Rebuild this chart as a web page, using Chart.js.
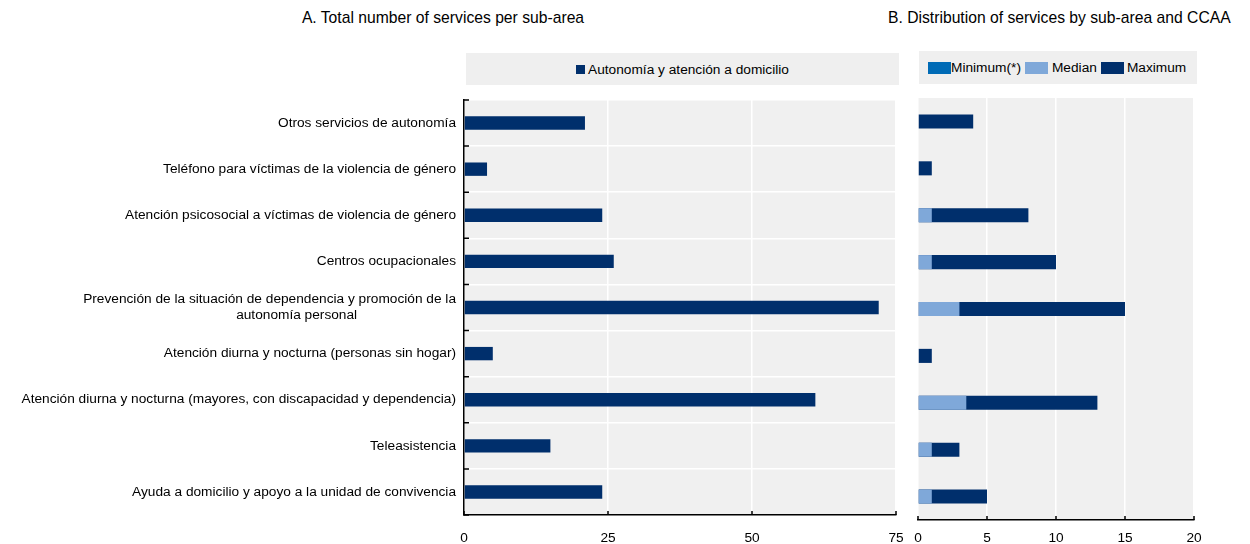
<!DOCTYPE html>
<html>
<head>
<meta charset="utf-8">
<script src="https://cdn.jsdelivr.net/npm/chart.js@4.4.1/dist/chart.umd.min.js"></script>
<style>
  body { margin: 0; width: 1250px; height: 544px; overflow: hidden; background: #fff;
         font-family: "Liberation Sans", Arial, sans-serif; color: #000; }
  .title { position: absolute; top: 9px; font-size: 15.7px; white-space: nowrap; text-align: center; }
  .legend { position: absolute; background: #efefef; display: flex; align-items: center;
            font-size: 13.7px; white-space: nowrap; }
  .sw { display: inline-block; }
  .item { display: flex; align-items: center; }
  #boxA { position: absolute; left: 0; top: 95px; }
  #boxB { position: absolute; left: 905px; top: 93px; }
</style>
</head>
<body>
<div class="title" style="left:0;width:886px">A. Total number of services per sub-area</div>
<div class="title" style="left:888px;text-align:left">B. Distribution of services by sub-area and CCAA</div>

<div class="legend" style="left:466px;top:53px;width:433px;height:32px;justify-content:center">
  <span class="item"><span class="sw" style="width:9px;height:9px;background:#002f6c;margin-right:3px"></span>Autonomía y atención a domicilio</span>
</div>
<div class="legend" style="left:919px;top:51px;width:278px;height:33px;padding-left:9px;box-sizing:border-box">
  <span class="item"><span class="sw" style="width:23px;height:12px;background:#006bb6"></span>Minimum(*)</span>
  <span class="item" style="margin-left:4px"><span class="sw" style="width:23px;height:12px;background:#7fa8d9;margin-right:4px"></span>Median</span>
  <span class="item" style="margin-left:4px"><span class="sw" style="width:23px;height:12px;background:#002f6c;margin-right:3px"></span>Maximum</span>
</div>

<div id="boxA"><canvas id="chartA" width="905" height="449"></canvas></div>
<div id="boxB"><canvas id="chartB" width="345" height="451"></canvas></div>

<script>
const subAreas = [
  'Otros servicios de autonomía',
  'Teléfono para víctimas de la violencia de género',
  'Atención psicosocial a víctimas de violencia de género',
  'Centros ocupacionales',
  ['Prevención de la situación de dependencia y promoción de la', 'autonomía personal' + ' '.repeat(26)],
  'Atención diurna y nocturna (personas sin hogar)',
  'Atención diurna y nocturna (mayores, con discapacidad y dependencia)',
  'Teleasistencia',
  'Ayuda a domicilio y apoyo a la unidad de convivencia'
];
const totalServices = [21, 4, 24, 26, 72, 5, 61, 15, 24];
const minServices = [0, 0, 0, 0, 0, 0, 0, 0, 0];
const medianServices = [0, 0, 1, 1, 3, 0, 3.5, 1, 1];
const maxServices = [4, 1, 8, 10, 15, 1, 13, 3, 5];
const ticksA = [0, 25, 50, 75];
const ticksB = [0, 5, 10, 15, 20];

const NAVY = '#002f6c', LIGHT = '#7fa8d9', MID = '#006bb6';

// grey plot background plus short inward tick marks
const frame = {
  id: 'frame',
  beforeDraw(chart) {
    const { ctx, chartArea: a } = chart;
    ctx.save();
    ctx.fillStyle = '#f0f0f0';
    ctx.fillRect(a.left, a.top, a.right - a.left, a.bottom - a.top);
    ctx.restore();
  },
  afterDraw(chart, args, opts) {
    const { ctx, chartArea: a, scales } = chart;
    ctx.save();
    ctx.strokeStyle = '#000';
    ctx.lineWidth = 1.5;
    ctx.beginPath();
    scales.x.ticks.forEach(t => {
      const px = scales.x.getPixelForValue(t.value);
      ctx.moveTo(px, a.bottom);
      ctx.lineTo(px, a.bottom - 4);
    });
    if (opts.yTicks) {
      for (let i = 0; i <= subAreas.length; i++) {
        const py = scales.y.getPixelForValue(i - 0.5);
        ctx.moveTo(a.left, py);
        ctx.lineTo(a.left + 5, py);
      }
    }
    ctx.stroke();
    ctx.restore();
  }
};

// fixed axis sizes, no extra room for overhanging labels
const fixX = h => s => { s.height = h; s.paddingLeft = 0; s.paddingRight = 0; };
const fixY = w => s => { s.width = w; s.paddingTop = 0; s.paddingBottom = 0; };

Chart.defaults.font.family = '"Liberation Sans", Arial, sans-serif';
Chart.defaults.font.size = 13.7;
Chart.defaults.color = '#000';

new Chart(document.getElementById('chartA'), {
  type: 'bar',
  plugins: [frame],
  data: {
    labels: subAreas,
    datasets: [{
      label: 'Autonomía y atención a domicilio',
      data: totalServices,
      backgroundColor: NAVY,
      categoryPercentage: 0.29,
      barPercentage: 1
    }]
  },
  options: {
    indexAxis: 'y',
    responsive: false,
    animation: false,
    layout: { padding: { left: 0, right: 9, top: 5, bottom: 0 } },
    plugins: { legend: { display: false }, tooltip: { enabled: false }, frame: { yTicks: true } },
    scales: {
      x: {
        min: 0, max: 75,
        afterBuildTicks: s => { s.ticks = ticksA.map(v => ({ value: v })); },
        afterFit: fixX(29),
        grid: { color: '#fff', lineWidth: 1.5, drawTicks: false },
        border: { display: true, color: '#000', width: 1.5 },
        ticks: { padding: 15 }
      },
      y: {
        afterFit: fixY(464),
        grid: { color: '#fff', lineWidth: 1.5, drawTicks: false },
        border: { display: true, color: '#000', width: 1.5 },
        ticks: { padding: 8, font: { lineHeight: 1.15 } }
      }
    }
  }
});

new Chart(document.getElementById('chartB'), {
  type: 'bar',
  plugins: [frame],
  data: {
    labels: subAreas,
    datasets: [
      { label: 'Minimum(*)', data: minServices, backgroundColor: MID },
      { label: 'Median', data: medianServices, backgroundColor: LIGHT },
      { label: 'Maximum', data: maxServices, backgroundColor: NAVY }
    ]
  },
  options: {
    indexAxis: 'y',
    responsive: false,
    animation: false,
    grouped: false,
    categoryPercentage: 0.3,
    barPercentage: 1,
    layout: { padding: { left: 13, right: 56, top: 5, bottom: 0 } },
    plugins: { legend: { display: false }, tooltip: { enabled: false }, frame: { yTicks: false } },
    scales: {
      x: {
        min: 0, max: 20,
        afterBuildTicks: s => { s.ticks = ticksB.map(v => ({ value: v })); },
        afterFit: fixX(24),
        grid: { color: '#fff', lineWidth: 1.5, drawTicks: false },
        border: { display: true, color: '#000', width: 1.5 },
        ticks: { padding: 10 }
      },
      y: { display: false }
    }
  }
});
</script>
</body>
</html>
